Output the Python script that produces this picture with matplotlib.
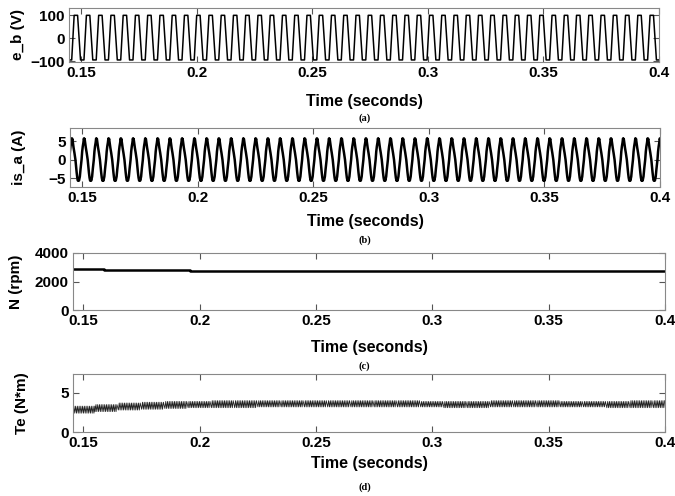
import numpy as np
import matplotlib
matplotlib.use("Agg")
import matplotlib.pyplot as plt

plt.rcParams["font.family"] = ["Liberation Sans", "DejaVu Sans"]
plt.rcParams["font.weight"] = "bold"

# ---- data ----
t_end = 0.4
x_ticks = [0.15, 0.2, 0.25, 0.3, 0.35, 0.4]

# back-EMF e_b: one trapezoid cycle, repeated
eb_period = 0.0053
eb_first_zero = 0.1465
eb_phase = [0, 0.10, 0.38, 0.62, 0.90]
eb_volts = [0, 100, 100, -95, -95]

# phase current is_a: one cycle, repeated
ia_period = 0.0053
ia_first_zero = 0.1445
ia_phase = [0, 0.05, 0.10, 0.15, 0.19, 0.22, 0.25, 0.30, 0.35, 0.42,
            0.5, 0.55, 0.60, 0.65, 0.70, 0.74, 0.79, 0.86, 0.92]
ia_amps = [0, 2.2, 3.6, 4.6, 5.7, 5.3, 5.6, 4.3, 3.2, 1.8,
           0, -1.8, -3.4, -4.8, -5.6, -5.2, -5.6, -4.5, -2.4]

# speed N (rpm), step changes
n_time = [0.1455, 0.1515, 0.159, 0.172, 0.196, 0.4]
n_rpm = [2900, 2870, 2820, 2780, 2730, 2730]

# torque Te: ripple band (low / high) held over 0.01 s segments
te_seg_start = [0.1455, 0.155, 0.165, 0.175, 0.185, 0.195, 0.205, 0.215, 0.225, 0.235,
                0.245, 0.255, 0.265, 0.275, 0.285, 0.295, 0.305, 0.315, 0.325, 0.335,
                0.345, 0.355, 0.365, 0.375, 0.385, 0.395]
te_low = [2.4, 2.6, 2.8, 2.9, 3.0, 3.1, 3.1, 3.1, 3.2, 3.2,
          3.2, 3.2, 3.2, 3.2, 3.2, 3.2, 3.1, 3.1, 3.2, 3.2,
          3.2, 3.2, 3.2, 3.1, 3.1, 3.1]
te_high = [3.3, 3.5, 3.7, 3.8, 3.9, 3.9, 4.0, 4.0, 4.0, 4.0,
           4.0, 4.0, 4.0, 4.0, 4.0, 3.9, 3.9, 3.9, 4.0, 4.0,
           4.0, 3.9, 3.9, 3.9, 4.0, 4.0]
te_ripple_period = 0.00075


def repeat_cycle(first, period, phase, values, t0, t1):
    n0 = int(np.floor((t0 - first) / period)) - 1
    n1 = int(np.ceil((t1 - first) / period)) + 1
    k = np.arange(n0, n1)
    tt = (first + (k[:, None] + np.array(phase)[None, :]) * period).ravel()
    vv = np.tile(values, len(k))
    return tt, vv


def style(ax, xlim, ylim, yticks, ylabel, ylab_x, xlab_y, caption, cap_y):
    ax.set_xlim(xlim)
    ax.set_ylim(ylim)
    ax.set_xticks(x_ticks)
    ax.set_xticklabels(["0.15", "0.2", "0.25", "0.3", "0.35", "0.4"])
    ax.set_yticks(yticks)
    ax.tick_params(direction="in", top=True, right=True, length=4, width=0.8,
                   labelsize=11, pad=3, color="#555555")
    for s in ax.spines.values():
        s.set_color("#888888")
        s.set_linewidth(0.8)
    ax.set_ylabel(ylabel, fontsize=11, fontweight="bold")
    ax.yaxis.set_label_coords(ylab_x, 0.5)
    ax.set_xlabel("Time (seconds)", fontsize=11.5, fontweight="bold")
    ax.xaxis.set_label_coords(0.5, xlab_y)
    fig.text(0.54, cap_y, caption, ha="center", va="center", fontsize=7.5,
             family="Liberation Serif", fontweight="bold")


fig = plt.figure(figsize=(6.75, 4.96), dpi=100)
W, H = 675, 496


def axes_px(x0, x1, y0, y1):
    return fig.add_axes([x0 / W, 1 - y1 / H, (x1 - x0) / W, (y1 - y0) / H])


# (a) back-EMF
ax1 = axes_px(69, 659, 8, 62)
t, v = repeat_cycle(eb_first_zero, eb_period, eb_phase, eb_volts, 0.14, t_end)
ax1.plot(t, v, color="black", lw=1.1)
style(ax1, (0.1448, 0.4), (-104, 132), [-100, 0, 100], "e_b (V)", -0.075, -0.6,
      "(a)", 1 - 118 / H)

# (b) phase current
ax2 = axes_px(70, 660, 128, 187)
t, v = repeat_cycle(ia_first_zero, ia_period, ia_phase, ia_amps, 0.14, t_end)
ax2.plot(t, v, color="black", lw=1.8)
style(ax2, (0.1448, 0.4), (-7.3, 8.5), [-5, 0, 5], "is_a (A)", -0.075, -0.46,
      "(b)", 1 - 240 / H)

# (c) speed
ax3 = axes_px(73, 665, 253, 310)
ax3.plot(n_time, n_rpm, color="black", lw=1.8, drawstyle="steps-post")
style(ax3, (0.1455, 0.4), (0, 4000), [0, 2000, 4000], "N (rpm)", -0.085, -0.52,
      "(c)", 1 - 366 / H)

# (d) torque
ax4 = axes_px(73, 665, 374, 432)
te_t, te_v = [], []
seg_end = te_seg_start[1:] + [t_end]
for s0, s1, lo, hi in zip(te_seg_start, seg_end, te_low, te_high):
    n = int(round((s1 - s0) / te_ripple_period))
    for i in range(n):
        te_t += [s0 + i * te_ripple_period, s0 + (i + 0.5) * te_ripple_period]
        te_v += [lo, hi]
ax4.plot(te_t, te_v, color="#222222", lw=0.6)
style(ax4, (0.1455, 0.4), (0, 7.4), [0, 5], "Te (N*m)", -0.075, -0.42,
      "(d)", 1 - 487 / H)

fig.savefig("out.png", dpi=100)
